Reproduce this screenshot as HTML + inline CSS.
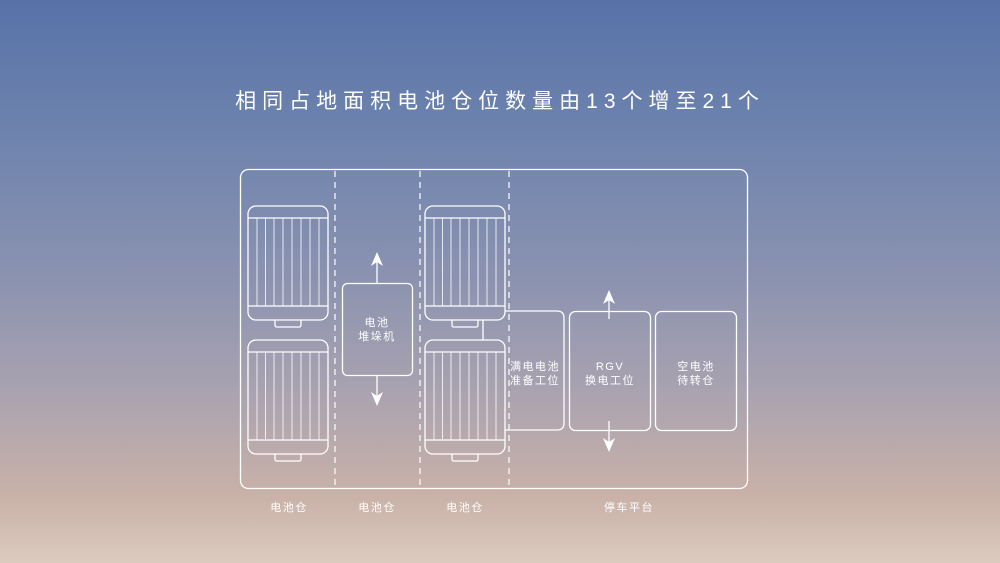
<!DOCTYPE html>
<html><head><meta charset="utf-8"><style>
html,body{margin:0;padding:0}
body{width:1000px;height:563px;overflow:hidden;background:linear-gradient(180deg,#5872a8 0%,#6f84ae 25%,#8c93b0 50%,#aaa3b0 70%,#c9b1a8 88%,#dccbbf 100%);font-family:"Liberation Sans","Noto Sans CJK SC",sans-serif}
svg{position:absolute;left:0;top:0}
</style></head><body>
<svg width="1000" height="563" viewBox="0 0 1000 563" font-family="Liberation Sans, Noto Sans CJK SC, sans-serif">
<defs>
<g id="bat" fill="none" stroke="#fff" stroke-width="1.3">
<rect x="0" y="0" width="80" height="114" rx="8"/>
<line x1="0" y1="12" x2="80" y2="12"/><line x1="0" y1="100" x2="80" y2="100"/>
<g stroke-width="0.8">
<line x1="9" y1="12" x2="9" y2="100"/><line x1="17.5" y1="12" x2="17.5" y2="100"/><line x1="26" y1="12" x2="26" y2="100"/><line x1="35" y1="12" x2="35" y2="100"/><line x1="44" y1="12" x2="44" y2="100"/><line x1="53" y1="12" x2="53" y2="100"/><line x1="62" y1="12" x2="62" y2="100"/><line x1="71" y1="12" x2="71" y2="100"/>
</g>
<path d="M27 114 V119 Q27 121 29 121 H51 Q53 121 53 119 V114"/>
</g>
<marker id="ah" markerWidth="14" markerHeight="14" refX="7" refY="7" orient="auto" markerUnits="userSpaceOnUse"><path d="M0 1 L14 7 L0 13 L4 7 Z" fill="#fff"/></marker>
</defs>
<text x="500" y="108" fill="#fff" font-size="21" text-anchor="middle" letter-spacing="6">相同占地面积电池仓位数量由13个增至21个</text>
<rect x="240.5" y="169.5" width="507" height="319" rx="8" fill="none" stroke="#fff" stroke-width="1.3"/>
<g stroke="#fff" stroke-width="1.2" stroke-dasharray="6,5">
<line x1="335" y1="171" x2="335" y2="488"/><line x1="420" y1="171" x2="420" y2="488"/><line x1="509" y1="171" x2="509" y2="488"/>
</g>
<g fill="none" stroke="#fff" stroke-width="1.3">
<path d="M505 311 H557 Q564 311 564 318 V423 Q564 430 557 430 H505"/>
<rect x="569.5" y="311.5" width="81" height="119" rx="6"/>
<rect x="655.5" y="311.5" width="81" height="119" rx="6"/>
<rect x="342.5" y="283.5" width="70" height="92" rx="5"/>
<line x1="483" y1="320" x2="483" y2="340"/>
<line x1="377" y1="283" x2="377" y2="259" marker-end="url(#ah)"/>
<line x1="377" y1="375" x2="377" y2="399" marker-end="url(#ah)"/>
<line x1="609" y1="319" x2="609" y2="297" marker-end="url(#ah)"/>
<line x1="609" y1="421" x2="609" y2="445" marker-end="url(#ah)"/>
</g>
<use href="#bat" x="248" y="206"/><use href="#bat" x="248" y="340"/>
<use href="#bat" x="425" y="206"/><use href="#bat" x="425" y="340"/>
<g fill="#fff" font-size="11" text-anchor="middle" letter-spacing="1.5">
<text x="377" y="326">电池</text><text x="377" y="340">堆垛机</text>
<text x="535" y="370">满电电池</text><text x="535" y="384">准备工位</text>
<text x="610" y="370">RGV</text><text x="610" y="384">换电工位</text>
<text x="696" y="370">空电池</text><text x="696" y="384">待转仓</text>
<text x="289" y="511">电池仓</text><text x="377" y="511">电池仓</text><text x="465" y="511">电池仓</text><text x="629" y="511">停车平台</text>
</g>
</svg>
</body></html>
